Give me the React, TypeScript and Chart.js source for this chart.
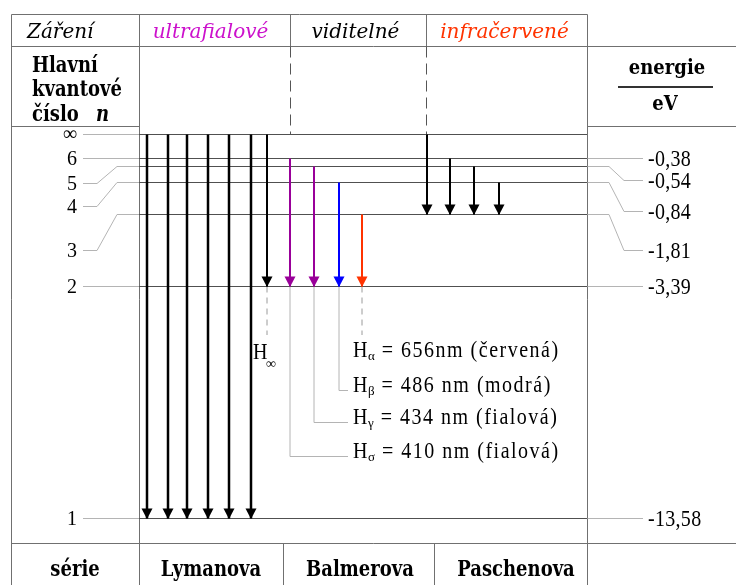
import React, { useEffect, useRef } from 'react';
import { Chart, registerables } from 'chart.js';

Chart.register(...registerables);

// ---------------- data ----------------
const levelNames = ['∞', '6', '5', '4', '3', '2', '1'];
const levelEnergies = ['', '-0,38', '-0,54', '-0,84', '-1,81', '-3,39', '-13,58'];
// schematic depth of each level below n = ∞ (diagram units)
const levelDepth = [0.5, 24.5, 32.5, 48.5, 80.5, 152.5, 384.5];

const radiationBands = ['ultrafialové', 'viditelné', 'infračervené'];
const seriesNames = ['Lymanova', 'Balmerova', 'Paschenova'];

// spectral transitions: slot in the diagram, upper level, lower level
const transitionSlot = [8, 29, 48, 69, 90, 112, 128, 151, 175, 200, 223, 288, 311, 335, 360];
const transitionFrom = ['∞', '∞', '∞', '∞', '∞', '∞', '∞', '6', '5', '4', '3', '∞', '6', '5', '4'];
const transitionTo = ['1', '1', '1', '1', '1', '1', '2', '2', '2', '2', '2', '3', '3', '3', '3'];

// Balmer line labels
const balmerNames = ['α', 'β', 'γ', 'σ'];
const balmerFrom = ['3', '4', '5', '6'];
const balmerWavelengths = ['656nm', '486 nm', '434 nm', '410 nm'];
const balmerColourNames = ['červená', 'modrá', 'fialová', 'fialová'];

// ---------------- styles ----------------
const transitionColours = [
  '#000000', '#000000', '#000000', '#000000', '#000000', '#000000',
  '#000000', '#990099', '#990099', '#0000ff', '#ff3300',
  '#000000', '#000000', '#000000', '#000000',
];
const bandColours = ['#cc11cc', '#000000', '#ff3300'];
const GRID = '#707070';
const LEVEL = '#505050';
const LEAD = '#b4b4b4';
const TIMES = '"Liberation Serif", "Times New Roman", serif';
const DJS = '"DejaVu Serif", serif';

// ---------------- layout (canvas pixels) ----------------
const LAYOUT = {
  left: 11.5,
  col1: 139.5,
  right: 587.5,
  top: 14.5,
  headBottom: 46.5,
  labelBottom: 126.5,
  seriesTop: 543.5,
  bandCols: [139.5, 290.5, 426.5, 587.5],
  seriesCols: [283.5, 434.5],
  bandCenters: [210.5, 355.5, 504.5],
  seriesCenters: [75, 211, 360, 516],
  leftLabelY: [134.5, 158.5, 183.5, 206.5, 250.5, 286.5, 518.5],
  rightLabelY: [0, 158.5, 180.5, 211.5, 250.5, 286.5, 518.5],
  balmerBase: [357, 392, 424, 458],
};

function seg(ctx: CanvasRenderingContext2D, pts: number[][], color: string, width = 1, dash: number[] = []) {
  ctx.save();
  ctx.strokeStyle = color;
  ctx.lineWidth = width;
  ctx.setLineDash(dash);
  ctx.beginPath();
  pts.forEach(([px, py], i) => (i ? ctx.lineTo(px, py) : ctx.moveTo(px, py)));
  ctx.stroke();
  ctx.restore();
}

function label(
  ctx: CanvasRenderingContext2D,
  s: string,
  x: number,
  yb: number,
  font: string,
  color = '#000',
  align: CanvasTextAlign = 'left',
  sy = 1,
  ls = 0,
) {
  ctx.save();
  ctx.font = font;
  ctx.fillStyle = color;
  ctx.textAlign = align;
  ctx.textBaseline = 'alphabetic';
  (ctx as any).letterSpacing = `${ls}px`;
  ctx.translate(x, yb);
  ctx.scale(1, sy);
  ctx.fillText(s, 0, 0);
  const w = ctx.measureText(s).width;
  ctx.restore();
  return w;
}

const lvl = (n: string) => levelDepth[levelNames.indexOf(n)];

const diagramPlugin = {
  id: 'hydrogenDiagram',
  beforeDatasetsDraw(chart: any) {
    const ctx: CanvasRenderingContext2D = chart.ctx;
    const xs = chart.scales.x;
    const ys = chart.scales.y;
    const W = chart.width;
    const H = chart.height;
    const L = LAYOUT;

    // table grid
    seg(ctx, [[L.left, L.top], [L.right, L.top]], GRID);
    seg(ctx, [[L.left, L.headBottom], [W, L.headBottom]], GRID);
    seg(ctx, [[L.left, L.labelBottom], [L.col1, L.labelBottom]], GRID);
    seg(ctx, [[L.right, L.labelBottom], [W, L.labelBottom]], GRID);
    seg(ctx, [[L.left, L.seriesTop], [W, L.seriesTop]], GRID);
    [L.left, L.col1, L.right].forEach((c) => seg(ctx, [[c, L.top], [c, H]], GRID));
    L.bandCols.slice(1, 3).forEach((c) => seg(ctx, [[c, L.top], [c, L.headBottom]], GRID));
    L.seriesCols.forEach((c) => seg(ctx, [[c, L.seriesTop], [c, H]], GRID));
    const yInf = ys.getPixelForValue(levelDepth[0]);
    L.bandCols.slice(1, 3).forEach((c) => seg(ctx, [[c, L.headBottom], [c, yInf]], '#555555', 1, [11, 6]));

    // leaders to the level labels
    levelNames.forEach((_, i) => {
      const ly = ys.getPixelForValue(levelDepth[i]);
      const ty = L.leftLabelY[i];
      if (Math.abs(ly - ty) < 1.5) seg(ctx, [[83, ly], [L.col1, ly]], LEAD);
      else seg(ctx, [[83, ty], [97, ty], [117, ly], [L.col1, ly]], LEAD);
      if (levelEnergies[i]) {
        const ry = L.rightLabelY[i];
        if (Math.abs(ly - ry) < 1.5) seg(ctx, [[L.right, ly], [643, ly]], LEAD);
        else seg(ctx, [[L.right, ly], [609, ly], [624, ry], [643, ry]], LEAD);
      }
    });

    // leaders to the Balmer line labels
    const y2 = ys.getPixelForValue(lvl('2'));
    const balmerIdx = (from: string) =>
      transitionSlot.findIndex((_, k) => transitionTo[k] === '2' && transitionFrom[k] === from);
    const xInf = xs.getPixelForValue(transitionSlot[balmerIdx('∞')]);
    seg(ctx, [[xInf, y2], [xInf, 335]], '#9a9a9a', 1, [6, 5]);
    balmerNames.forEach((_, j) => {
      const bx = xs.getPixelForValue(transitionSlot[balmerIdx(balmerFrom[j])]);
      if (j === 0) seg(ctx, [[bx, y2], [bx, 335]], '#9a9a9a', 1, [6, 5]);
      else {
        const ly = L.balmerBase[j] - 1.5;
        seg(ctx, [[bx, y2], [bx, ly], [348, ly]], LEAD);
      }
    });
  },
  afterDatasetsDraw(chart: any) {
    const ctx: CanvasRenderingContext2D = chart.ctx;
    const L = LAYOUT;

    // arrow heads
    chart.data.datasets.forEach((ds: any, i: number) => {
      if (!ds.arrow) return;
      const meta = chart.getDatasetMeta(i);
      const tip = meta.data[meta.data.length - 1];
      ctx.save();
      ctx.fillStyle = ds.borderColor;
      ctx.beginPath();
      ctx.moveTo(tip.x, tip.y + 0.5);
      ctx.lineTo(tip.x - 5.5, tip.y - 10);
      ctx.lineTo(tip.x + 5.5, tip.y - 10);
      ctx.closePath();
      ctx.fill();
      ctx.restore();
    });

    // header row
    label(ctx, 'Záření', 27, 38, `italic 20px ${DJS}`);
    radiationBands.forEach((b, i) =>
      label(ctx, b, L.bandCenters[i], 38, `italic 20px ${DJS}`, bandColours[i], 'center'),
    );

    // left header
    const B18 = `bold 18px ${DJS}`;
    label(ctx, 'Hlavní', 32, 72, B18, '#000', 'left', 1.25);
    label(ctx, 'kvantové', 32, 96, B18, '#000', 'left', 1.25);
    label(ctx, 'číslo', 32, 121, B18, '#000', 'left', 1.25);
    label(ctx, 'n', 96, 121, `bold italic 18px ${DJS}`, '#000', 'left', 1.25);

    // right header
    label(ctx, 'energie', 667, 74, B18, '#000', 'center', 1.15);
    seg(ctx, [[618, 87], [713, 87]], '#333333', 1.8);
    label(ctx, 'eV', 665, 110, B18, '#000', 'center', 1.15);

    // bottom row
    label(ctx, 'série', L.seriesCenters[0], 576, B18, '#000', 'center', 1.22);
    seriesNames.forEach((s, i) => label(ctx, s, L.seriesCenters[i + 1], 576, B18, '#000', 'center', 1.22));

    // level labels
    levelNames.forEach((n, i) => {
      const ty = L.leftLabelY[i];
      label(ctx, n, 77, n === '∞' ? ty + 5 : ty + 6.5, `20px ${TIMES}`, '#000', 'right');
      if (levelEnergies[i]) {
        label(ctx, levelEnergies[i], 648, L.rightLabelY[i] + 7.5, `20px ${TIMES}`, '#000', 'left', 1.15, 0.3);
      }
    });

    // Balmer line labels
    label(ctx, 'H', 253, 359, `20px ${TIMES}`, '#000', 'left', 1.2);
    label(ctx, '∞', 266, 368, `14px ${TIMES}`);
    balmerNames.forEach((nm, j) => {
      const base = L.balmerBase[j];
      let cx = 353;
      cx += label(ctx, 'H', cx, base, `20px ${TIMES}`, '#000', 'left', 1.2);
      cx += label(ctx, nm, cx + 0.5, base + 3, `13px ${TIMES}`) + 1;
      label(ctx, ` = ${balmerWavelengths[j]} (${balmerColourNames[j]})`, cx, base, `20px ${TIMES}`, '#000', 'left', 1.2, 1.5);
    });
  },
};

export default function App() {
  const ref = useRef<HTMLCanvasElement | null>(null);

  useEffect(() => {
    if (!ref.current) return;
    const levelSets = levelNames.map((n, i) => ({
      label: `n = ${n}`,
      data: [
        { x: 0, y: levelDepth[i] },
        { x: 448, y: levelDepth[i] },
      ],
      borderColor: LEVEL,
      borderWidth: 1.2,
      pointRadius: 0,
      order: 2,
    }));
    const arrowSets = transitionSlot.map((s, k) => ({
      label: `${transitionFrom[k]} → ${transitionTo[k]}`,
      data: [
        { x: s, y: lvl(transitionFrom[k]) },
        { x: s, y: lvl(transitionTo[k]) },
      ],
      borderColor: transitionColours[k],
      borderWidth: transitionTo[k] === '1' ? 2.5 : 2,
      pointRadius: 0,
      order: 1,
      arrow: true,
    }));

    const chart = new Chart(ref.current, {
      type: 'line',
      data: { datasets: [...levelSets, ...arrowSets] as any },
      options: {
        animation: false,
        responsive: false,
        devicePixelRatio: 1,
        events: [],
        layout: { padding: { left: 139, top: 134, right: 149, bottom: 66 } },
        plugins: {
          legend: { display: false },
          tooltip: { enabled: false },
          title: { display: false },
        },
        scales: {
          x: { type: 'linear', min: 0, max: 448, display: false },
          y: { type: 'linear', min: 0, max: 385, reverse: true, display: false },
        },
        elements: { line: { tension: 0 } },
      } as any,
      plugins: [diagramPlugin as any],
    });
    return () => chart.destroy();
  }, []);

  return (
    <div style={{ position: 'fixed', left: 0, top: 0, width: 736, height: 585, background: '#fff' }}>
      <canvas ref={ref} width={736} height={585} style={{ display: 'block' }} />
    </div>
  );
}
